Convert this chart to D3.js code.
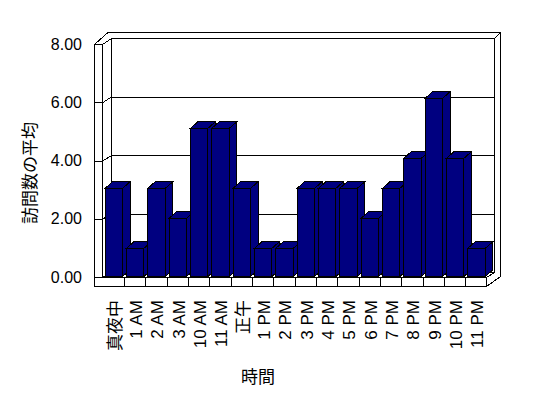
<!DOCTYPE html>
<html>
<head>
<meta charset="utf-8">
<style>
  body { margin: 0; background: #fff; }
  .axis .domain { display: none; }
  text { fill: #000; }
  path, rect, line { shape-rendering: crispEdges; }
</style>
</head>
<body>
<svg width="548" height="398"></svg>
<script src="https://d3js.org/d3.v7.min.js"></script>
<script>

// data
var categories = ["真夜中", "1 AM", "2 AM", "3 AM", "10 AM", "11 AM", "正午", "1 PM", "2 PM",
  "3 PM", "4 PM", "5 PM", "6 PM", "7 PM", "8 PM", "9 PM", "10 PM", "11 PM"];
var visits = [3, 1, 3, 2, 5, 5, 3, 1, 1, 3, 3, 3, 2, 3, 4, 6, 4, 1];
var yTicks = [0, 2, 4, 6, 8];
var yTitle = "訪問数の平均";
var xTitle = "時間";

var data = categories.map(function(c, i) { return { cat: c, value: visits[i] }; });

var svg = d3.select("svg");
var latin = "'Liberation Sans', Arial, 'Noto Sans CJK JP', sans-serif";
var cjk = "'Noto Sans CJK JP', sans-serif";

// 3d box geometry
var wallLeft = 94.5, backLeft = 111.5, backRight = 494.5;
var outerTop = 32.5, outerRight = 500.5, outerLeftTop = 108;
var floorTop = 277.5, floorBottom = 286.5;
var barDx = 7.5, barDy = 6.5, barBase = 276.5;

var x = d3.scaleBand()
  .domain(categories)
  .range([102.5, 486.5]);

var yFront = d3.scaleLinear().domain([0, 8]).range([277.5, 44.5]);
var yBack = d3.scaleLinear().domain([0, 8]).range([272.5, 38.5]);
var yBar = d3.scaleLinear().domain([0, 8]).range([278.3, 38.3]);

var x0 = x.range()[0], x1 = x.range()[1];

var g = svg.append("g")
  .attr("fill", "none")
  .attr("stroke", "#000")
  .attr("stroke-width", 1);

function line(p) {
  g.append("path").attr("d", d3.line()(p));
}

// back wall
g.append("rect")
  .attr("x", backLeft).attr("y", yBack(8))
  .attr("width", backRight - backLeft).attr("height", yBack(0) - yBack(8))
  .attr("fill", "#fff");
line([[outerLeftTop, outerTop], [outerRight, outerTop], [outerRight, floorBottom - 10]]);
line([[backRight, yBack(8)], [outerRight, outerTop]]);

// left wall
line([[wallLeft, yFront(8)], [wallLeft, floorBottom]]);
line([[x0, yFront(8)], [x0, floorTop]]);
line([[wallLeft, yFront(8)], [x0, yFront(8)]]);
line([[wallLeft, yFront(8)], [outerLeftTop, outerTop]]);
line([[x0, yFront(8)], [backLeft, yBack(8)]]);
line([[x0, floorTop], [backLeft, yBack(0)]]);

// gridlines
yTicks.filter(function(v) { return v > 0 && v < 8; }).forEach(function(v) {
  line([[x0, yFront(v)], [backLeft, yBack(v)], [backRight, yBack(v)]]);
});

// floor
line([[x1, floorTop], [backRight, yBack(0)]]);
line([[wallLeft, floorBottom], [x1, floorBottom], [outerRight, floorBottom - 10]]);
categories.slice(1).concat([null]).forEach(function(c) {
  var xx = c === null ? x1 : Math.round(x(c)) + 0.5;
  line([[xx, floorTop], [xx, floorBottom]]);
});

// bars
var bw = x.bandwidth();
var bars = svg.append("g")
  .attr("fill", "#000080")
  .attr("stroke", "#000")
  .attr("stroke-linejoin", "miter")
  .selectAll("g")
  .data(data)
  .enter().append("g");

bars.append("path")
  .attr("d", function(d) {
    var l = x(d.cat) + bw * 0.12, r = l + bw * 0.82, t = yBar(d.value);
    return d3.line()([[l, t], [l + barDx, t - barDy], [r + barDx, t - barDy], [r, t]]) + "Z";
  });
bars.append("path")
  .attr("d", function(d) {
    var l = x(d.cat) + bw * 0.12, r = l + bw * 0.82, t = yBar(d.value);
    return d3.line()([[r, t], [r + barDx, t - barDy], [r + barDx, barBase - barDy], [r, barBase]]) + "Z";
  });
bars.append("rect")
  .attr("x", function(d) { return x(d.cat) + bw * 0.12; })
  .attr("y", function(d) { return yBar(d.value); })
  .attr("width", bw * 0.82)
  .attr("height", function(d) { return barBase - yBar(d.value); });

svg.append("path")
  .attr("stroke", "#000")
  .attr("d", d3.line()([[x0, floorTop], [x1, floorTop]]));

// y axis
var yAxis = svg.append("g")
  .attr("class", "axis")
  .attr("transform", "translate(" + (x0 - 0.5) + ",0)")
  .call(d3.axisLeft(yFront).tickValues(yTicks).tickFormat(d3.format(".2f")).tickSize(8).tickPadding(12).offset(0));
yAxis.selectAll("text")
  .attr("font-family", latin)
  .attr("font-size", 16);
yAxis.selectAll("line").attr("stroke", "#000");

// category labels
svg.append("g")
  .selectAll("text")
  .data(categories)
  .enter().append("text")
  .attr("transform", function(d) {
    return "translate(" + (x(d) + bw / 2 + 1.5) + ",300) rotate(-90)";
  })
  .attr("text-anchor", "end")
  .attr("dy", "0.36em")
  .attr("font-family", function(d) { return /[A-Z]/.test(d) ? latin : cjk; })
  .attr("font-size", 17)
  .text(function(d) { return d; });

// titles
svg.append("text")
  .attr("transform", "translate(30,173) rotate(-90)")
  .attr("text-anchor", "middle")
  .attr("dy", "0.36em")
  .attr("font-family", cjk)
  .attr("font-size", 17)
  .text(yTitle);

svg.append("text")
  .attr("x", 258)
  .attr("y", 377)
  .attr("text-anchor", "middle")
  .attr("dy", "0.36em")
  .attr("font-family", cjk)
  .attr("font-size", 17)
  .text(xTitle);

</script>
</body>
</html>
